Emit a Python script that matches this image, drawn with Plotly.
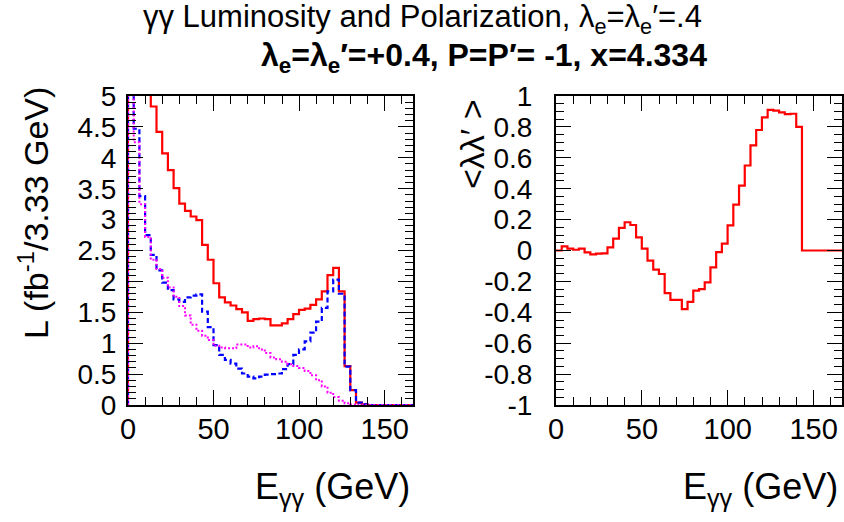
import plotly.graph_objects as go

# ---------------- data ----------------
bin_width = 3.33
n_bins = 50
x_max = bin_width * n_bins  # 166.5

# gamma-gamma luminosity per 3.33 GeV bin (left panel)
lum_total = [10.0, 7.5, 6.2, 5.4, 4.83, 4.42, 4.07, 3.80, 3.51, 3.26,
             3.14, 3.05, 2.99, 2.59, 2.35, 1.97, 1.74, 1.66, 1.61, 1.55,
             1.50, 1.36, 1.39, 1.40, 1.39, 1.29, 1.29, 1.32, 1.39, 1.47,
             1.54, 1.56, 1.62, 1.71, 1.84, 2.10, 2.22, 1.84, 0.63, 0.24,
             0.04, 0.01, 0, 0, 0, 0, 0, 0, 0, 0]
lum_j0 = [9.0, 4.47, 3.38, 2.75, 2.43, 2.18, 1.98, 1.86, 1.71, 1.67,
          1.74, 1.77, 1.79, 1.51, 1.26, 0.97, 0.81, 0.73, 0.67, 0.59,
          0.51, 0.46, 0.43, 0.46, 0.49, 0.50, 0.51, 0.58, 0.66, 0.81,
          0.90, 1.03, 1.17, 1.35, 1.57, 1.84, 2.03, 1.80, 0.62, 0.24,
          0.04, 0.01, 0, 0, 0, 0, 0, 0, 0, 0]
lum_j2 = [8.0, 4.25, 3.25, 2.72, 2.35, 2.20, 2.06, 1.90, 1.75, 1.60,
          1.45, 1.30, 1.20, 1.12, 1.05, 0.96, 0.93, 0.92, 0.92, 0.98,
          0.98, 0.93, 0.95, 0.90, 0.84, 0.77, 0.74, 0.70, 0.66, 0.63,
          0.60, 0.55, 0.48, 0.40, 0.30, 0.20, 0.13, 0.07, 0.03, 0.01,
          0, 0, 0, 0, 0, 0, 0, 0, 0, 0]
# average photon helicity product <lambda lambda'> (right panel)
pol = [0.0, 0.027, 0.012, 0.005, 0.012, -0.012, -0.025, -0.02, -0.018, 0.02,
       0.077, 0.146, 0.183, 0.165, 0.085, 0.012, -0.066, -0.124, -0.152, -0.276,
       -0.319, -0.319, -0.379, -0.332, -0.26, -0.25, -0.206, -0.109, -0.01, 0.044,
       0.163, 0.297, 0.42, 0.55, 0.68, 0.78, 0.862, 0.91, 0.905, 0.894,
       0.883, 0.885, 0.80, 0, 0, 0, 0, 0, 0, 0]

left_ytick_vals = [0, 0.5, 1, 1.5, 2, 2.5, 3, 3.5, 4, 4.5, 5]
left_ytick_text = ["0", "0.5", "1", "1.5", "2", "2.5", "3", "3.5", "4", "4.5", "5"]
right_ytick_vals = [-1, -0.8, -0.6, -0.4, -0.2, 0, 0.2, 0.4, 0.6, 0.8, 1]
right_ytick_text = ["-1", "-0.8", "-0.6", "-0.4", "-0.2", "0", "0.2", "0.4", "0.6", "0.8", "1"]
xtick_vals = [0, 50, 100, 150]
xtick_text = ["0", "50", "100", "150"]

title1 = "γγ Luminosity and Polarization, λ<sub>e</sub>=λ<sub>e</sub>′=.4"
title2 = "<b>λ<sub>e</sub>=λ<sub>e</sub>′=+0.4, P=P′= -1, x=4.334</b>"


def step_xy(values, baseline=True):
    edges = [i * bin_width for i in range(len(values) + 1)]
    xs = ([0.0] if baseline else []) + edges
    ys = ([0.0] if baseline else []) + list(values) + [values[-1]]
    if baseline:
        xs = xs + [edges[-1]]
        ys = ys + [0.0]
    return xs, ys


W, H = 844, 522
FONT = "Liberation Sans, Arial, sans-serif"

fig = go.Figure()

for vals, color, dash, width in [
    (lum_total, "#ff0000", "solid", 2.2),
    (lum_j0, "#0000ff", "5px,3px", 2.2),
    (lum_j2, "#ff00ff", "2px,2px", 2.0),
]:
    xs, ys = step_xy(vals)
    fig.add_trace(go.Scatter(x=xs, y=ys, mode="lines", line=dict(color=color, dash=dash, width=width, shape="hv"),
                             xaxis="x", yaxis="y", showlegend=False, hoverinfo="skip"))

xs, ys = step_xy(pol, baseline=False)
fig.add_trace(go.Scatter(x=xs, y=ys, mode="lines", line=dict(color="#ff0000", width=2.2, shape="hv"),
                         xaxis="x2", yaxis="y2", showlegend=False, hoverinfo="skip"))

axis_common = dict(showline=True, linecolor="black", linewidth=2, mirror="ticks",
                   ticks="inside", tickcolor="black", tickwidth=1, ticklen=15,
                   showgrid=False, zeroline=False, automargin=False)

def px_x(p):
    return p / W

def px_y(p):
    return 1 - p / H

tick_font = dict(family=FONT, size=28, color="black")
xtick_font = dict(family=FONT, size=29, color="black")

fig.update_layout(
    template="none",
    width=W, height=H, autosize=False,
    margin=dict(l=0, r=0, t=0, b=0, pad=0),
    paper_bgcolor="white", plot_bgcolor="white",
    xaxis=dict(domain=[px_x(128), px_x(413)], range=[0, x_max], anchor="y",
               tickmode="array", tickvals=xtick_vals, ticktext=xtick_text, tickfont=xtick_font,
               minor=dict(ticks="inside", ticklen=8, tickcolor="black", dtick=10, tick0=0),
               ticklabelstandoff=-3, **axis_common),
    yaxis=dict(domain=[px_y(405), px_y(96)], range=[0, 5], anchor="x",
               tickmode="array", tickvals=left_ytick_vals, ticktext=left_ytick_text, tickfont=tick_font,
               minor=dict(ticks="inside", ticklen=8, tickcolor="black", dtick=0.1, tick0=0),
               ticklabelstandoff=4, **axis_common),
    xaxis2=dict(domain=[px_x(556), px_x(842)], range=[0, x_max], anchor="y2",
                tickmode="array", tickvals=xtick_vals, ticktext=xtick_text, tickfont=xtick_font,
                minor=dict(ticks="inside", ticklen=8, tickcolor="black", dtick=10, tick0=0),
                ticklabelstandoff=-3, **axis_common),
    yaxis2=dict(domain=[px_y(405), px_y(96)], range=[-1, 1], anchor="x2",
                tickmode="array", tickvals=right_ytick_vals, ticktext=right_ytick_text, tickfont=tick_font,
                minor=dict(ticks="inside", ticklen=8, tickcolor="black", dtick=0.05, tick0=0),
                ticklabelstandoff=16, **axis_common),
)

ann_font = dict(family=FONT, size=34, color="black")
xt_font = dict(family=FONT, size=36, color="black")
fig.add_annotation(text=title1, x=px_x(422), y=px_y(19), xref="paper", yref="paper",
                   xanchor="center", yanchor="middle", showarrow=False,
                   font=dict(family=FONT, size=31, color="black"))
fig.add_annotation(text=title2, x=px_x(484), y=px_y(57), xref="paper", yref="paper",
                   xanchor="center", yanchor="middle", showarrow=False,
                   font=dict(family=FONT, size=32, color="black"))
fig.add_annotation(text="E<sub>γγ</sub> (GeV)", x=px_x(412), y=px_y(489), xref="paper", yref="paper",
                   xanchor="right", yanchor="middle", showarrow=False, font=xt_font)
fig.add_annotation(text="E<sub>γγ</sub> (GeV)", x=px_x(840), y=px_y(489), xref="paper", yref="paper",
                   xanchor="right", yanchor="middle", showarrow=False, font=xt_font)
fig.add_annotation(text="L (fb<sup>-1</sup>/3.33 GeV)", x=px_x(33), y=px_y(213), xref="paper", yref="paper",
                   xanchor="center", yanchor="middle", showarrow=False, textangle=-90, font=ann_font)
fig.add_annotation(text="&lt;λλ′ &gt;", x=px_x(472), y=px_y(144), xref="paper", yref="paper",
                   xanchor="center", yanchor="middle", showarrow=False, textangle=-90, font=ann_font)

fig.write_html("out.html", config={"displayModeBar": False},
               post_script="document.body.style.margin='0';document.body.style.padding='0';")
